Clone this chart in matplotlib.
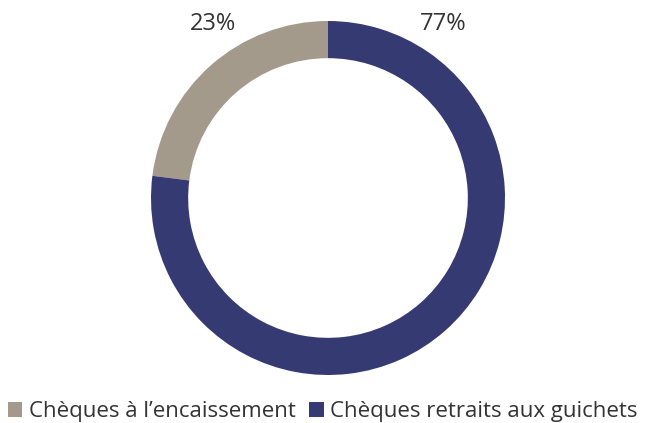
import matplotlib
matplotlib.use("Agg")
import matplotlib.pyplot as plt
from matplotlib.patches import Patch

labels = ["Chèques à l\u2019encaissement", "Chèques retraits aux guichets"]
values = [23, 77]
colors = ["#a39a8c", "#363a72"]
pct_text = ["23%", "77%"]

plt.rcParams["font.family"] = ["Open Sans", "DejaVu Sans"]

fig = plt.figure(figsize=(6.46, 4.23), dpi=100)
ax = fig.add_axes([151 / 646, 48 / 423, 354 / 646, 354 / 423])
ax.pie(values, colors=colors, startangle=90, counterclock=True, radius=1,
       wedgeprops=dict(width=0.21, edgecolor="none"))
ax.set_xlim(-1, 1); ax.set_ylim(-1, 1)
ax.set_aspect("equal")
ax.axis("off")

# percentage labels above the ring
for x, t in zip([-0.65, 0.65], pct_text):
    ax.text(x, 0.985, t, ha="center", va="center", fontsize=17, color="#333333", clip_on=False)

handles = [Patch(facecolor=c, edgecolor="none", label=l) for c, l in zip(colors, labels)]
fig.legend(handles=handles, loc="lower center", bbox_to_anchor=(0.5, -0.045), ncol=2, frameon=False,
           fontsize=16, handlelength=0.65, handleheight=0.65, handletextpad=0.3, columnspacing=0.6,
           labelcolor="#333333")
fig.savefig("out.png", dpi=100)
